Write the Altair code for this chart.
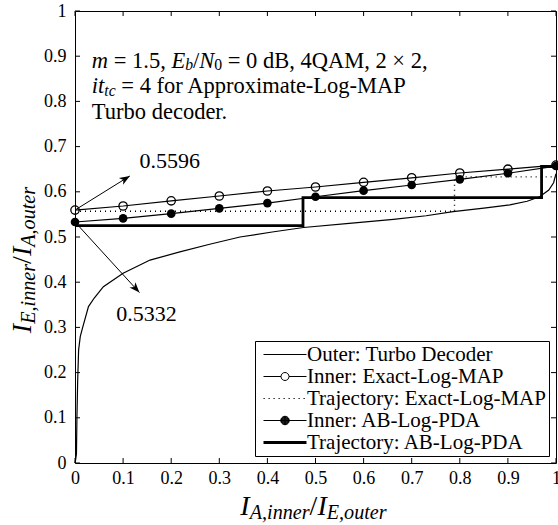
import math
import altair as alt
import pandas as pd

# ---------------- data ----------------
TICKS = [0.0, 0.1, 0.2, 0.3, 0.4, 0.5, 0.6, 0.7, 0.8, 0.9, 1.0]

OUTER_X = [0.0, 0.001, 0.003, 0.004, 0.0055, 0.0075, 0.011, 0.016, 0.028, 0.040,
           0.059, 0.100, 0.156, 0.218, 0.280, 0.343, 0.410, 0.475, 0.570, 0.662,
           0.730, 0.786, 0.850, 0.904, 0.940, 0.966, 0.985, 0.995, 1.000]
OUTER_Y = [0.0, 0.005, 0.02, 0.10, 0.18, 0.25, 0.28, 0.30, 0.346, 0.365,
           0.390, 0.420, 0.449, 0.467, 0.484, 0.500, 0.511, 0.521, 0.530, 0.539,
           0.547, 0.556, 0.564, 0.571, 0.579, 0.589, 0.604, 0.620, 0.640]

INNER_X = [0.0, 0.1, 0.2, 0.3, 0.4, 0.5, 0.6, 0.7, 0.8, 0.9, 1.0]
EXACT_Y = [0.5596, 0.5686, 0.5800, 0.5907, 0.6018, 0.6106, 0.6210, 0.6310, 0.6416, 0.6500, 0.6590]
AB_Y = [0.5332, 0.5413, 0.5516, 0.5634, 0.5750, 0.5890, 0.6025, 0.6150, 0.6276, 0.6410, 0.6570]

TRAJ_EXACT_X = [0.0, 0.789, 0.789, 1.0]
TRAJ_EXACT_Y = [0.557, 0.557, 0.633, 0.633]
TRAJ_AB_X = [0.0, 0.474, 0.474, 0.970, 0.970, 1.0]
TRAJ_AB_Y = [0.525, 0.525, 0.587, 0.587, 0.656, 0.656]

LEGEND_LABELS = ["Outer: Turbo Decoder", "Inner: Exact-Log-MAP",
                 "Trajectory: Exact-Log-MAP", "Inner: AB-Log-PDA",
                 "Trajectory: AB-Log-PDA"]

CALLOUT_TEXT = ["0.5596", "0.5332"]
CALLOUT_X = [0.134, 0.086]
CALLOUT_Y = [0.652, 0.3135]
ARROW_X0 = [0.0, 0.0]
ARROW_Y0 = [0.5596, 0.5332]
ARROW_X1 = [0.114, 0.134]
ARROW_Y1 = [0.635, 0.377]

NOTE_RUNS = [
    [("m", "i"), (" = 1.5, ", "r"), ("E", "i"), ("b", "is"), ("/", "r"), ("N", "i"),
     ("0", "rs"), (" = 0 dB, 4QAM, 2 × 2,", "r")],
    [("it", "i"), ("tc", "is"), (" = 4 for Approximate-Log-MAP", "r")],
    [("Turbo decoder.", "r")],
]
NOTE_X = 0.035
NOTE_Y = [0.8746, 0.8175, 0.7605]

X_TITLE_RUNS = [("I", "i"), ("A,inner", "is"), ("/", "r"), ("I", "i"), ("E,outer", "is")]
Y_TITLE_RUNS = [("I", "i"), ("E,inner", "is"), ("/", "r"), ("I", "i"), ("A,outer", "is")]

# ---------------- styling helpers ----------------
W, H = 481, 452
FONT = "Liberation Serif"

REG = {" ": 250, ",": 250, "-": 333, ".": 250, "/": 278, ":": 278, "=": 564,
       "×": 564,
       "A": 722, "B": 667, "D": 722, "E": 611, "I": 333, "L": 611, "M": 889, "N": 722,
       "O": 722, "P": 556, "Q": 722, "T": 611,
       "a": 444, "b": 500, "c": 444, "d": 500, "e": 444, "f": 333, "g": 500, "i": 278,
       "m": 778, "n": 500, "o": 500, "p": 500, "r": 333, "t": 278, "u": 500, "x": 500}
ITA = {" ": 250, ",": 250, "A": 611, "E": 611, "I": 333, "N": 667,
       "b": 500, "c": 444, "e": 444, "i": 278, "m": 722, "n": 500, "o": 500,
       "r": 389, "t": 278, "u": 500}


def tw(s, italic, size):
    tbl = ITA if italic else REG
    return sum(tbl.get(ch, 500) for ch in s) * size / 1000.0


SX = alt.Scale(domain=[0, 1], nice=False, zero=False)
SY = alt.Scale(domain=[0, 1], nice=False, zero=False)
AX = alt.Axis(values=TICKS, format=".1~f", title=None, labelPadding=6)
AY = alt.Axis(values=TICKS, format=".1~f", title=None, labelPadding=9)


def X(f):
    return alt.X(f, type="quantitative", scale=SX, axis=AX)


def Y(f):
    return alt.Y(f, type="quantitative", scale=SY, axis=AY)


def run_layers(runs, size, data, enc, centered=False, angle=0, sub_ratio=0.7, sub_drop=0.15):
    # Vega trims leading/trailing spaces, so they are turned into offsets.
    pieces = []
    pos = 0.0
    for text, style in runs:
        it = "i" in style
        sub = "s" in style
        fs = size * sub_ratio if sub else size
        lead = len(text) - len(text.lstrip(" "))
        lead_w = tw(" " * lead, it, fs)
        pieces.append((text.strip(" "), it, fs, pos + lead_w, size * sub_drop if sub else 0.0))
        pos += tw(text, it, fs)
    start = -pos / 2.0 if centered else 0.0
    out = []
    for text, it, fs, p, dy in pieces:
        out.append(
            alt.Chart(data).mark_text(
                align="left", baseline="alphabetic", font=FONT, fontSize=fs,
                fontStyle="italic" if it else "normal", color="black",
                dx=start + p, dy=dy, angle=angle,
            ).encode(text=alt.value(text), **enc)
        )
    return out


# ---------------- frames ----------------
outer_df = pd.DataFrame({"x": OUTER_X, "y": OUTER_Y, "i": range(len(OUTER_X))})
exact_df = pd.DataFrame({"x": INNER_X, "y": EXACT_Y})
ab_df = pd.DataFrame({"x": INNER_X, "y": AB_Y})
tex_df = pd.DataFrame({"x": TRAJ_EXACT_X, "y": TRAJ_EXACT_Y, "i": range(len(TRAJ_EXACT_X))})
tab_df = pd.DataFrame({"x": TRAJ_AB_X, "y": TRAJ_AB_Y, "i": range(len(TRAJ_AB_X))})
tick_df = pd.DataFrame({"t": TICKS})

angles = []
for x0, y0, x1, y1 in zip(ARROW_X0, ARROW_Y0, ARROW_X1, ARROW_Y1):
    angles.append(math.degrees(math.atan2(-(y1 - y0) * H, (x1 - x0) * W)) + 90.0)
arrow_df = pd.DataFrame({"x0": ARROW_X0, "y0": ARROW_Y0, "x1": ARROW_X1,
                         "y1": ARROW_Y1, "ang": angles})
callout_df = pd.DataFrame({"x": CALLOUT_X, "y": CALLOUT_Y, "t": CALLOUT_TEXT})

# ---------------- marks ----------------
outer = alt.Chart(outer_df).mark_line(color="black", strokeWidth=1.2).encode(
    x=X("x"), y=Y("y"), order="i:Q")
traj_exact = alt.Chart(tex_df).mark_line(color="black", strokeWidth=1.4, strokeDash=[1, 4]).encode(
    x=X("x"), y=Y("y"), order="i:Q")
traj_ab = alt.Chart(tab_df).mark_line(color="black", strokeWidth=2.8).encode(
    x=X("x"), y=Y("y"), order="i:Q")
exact_line = alt.Chart(exact_df).mark_line(color="black", strokeWidth=1.2).encode(x=X("x"), y=Y("y"))
exact_pts = alt.Chart(exact_df).mark_point(filled=False, color="black", strokeWidth=1.3,
                                           size=70, opacity=1).encode(x=X("x"), y=Y("y"))
ab_line = alt.Chart(ab_df).mark_line(color="black", strokeWidth=1.2).encode(x=X("x"), y=Y("y"))
ab_pts = alt.Chart(ab_df).mark_point(filled=True, color="black", size=75, opacity=1).encode(
    x=X("x"), y=Y("y"))

arrow_lines = alt.Chart(arrow_df).mark_rule(color="black", strokeWidth=1).encode(
    x=X("x0"), y=Y("y0"), x2="x1", y2="y1")
HEAD = "M0,0L1,2.6L0,1.9L-1,2.6Z"
arrow_heads = alt.Chart(arrow_df).mark_point(shape=HEAD, filled=True, color="black",
                                             size=64, opacity=1).encode(
    x=X("x1"), y=Y("y1"), angle=alt.Angle("ang:Q", scale=None))
callouts = alt.Chart(callout_df).mark_text(align="left", baseline="alphabetic", font=FONT,
                                           fontSize=22, color="black").encode(
    x=X("x"), y=Y("y"), text="t:N")

note_layers = []
for k, runs in enumerate(NOTE_RUNS):
    d = pd.DataFrame({"x": [NOTE_X], "y": [NOTE_Y[k]]})
    note_layers += run_layers(runs, 22.5, d, {"x": X("x"), "y": Y("y")}, sub_drop=0.12)

one = pd.DataFrame({"a": [0]})
xtitle_layers = run_layers(X_TITLE_RUNS, 28, one,
                           {"x": alt.value(W / 2 - 2), "y": alt.value(H + 52)},
                           centered=True, sub_ratio=0.72)
ytitle_layers = run_layers(Y_TITLE_RUNS, 28, one,
                           {"x": alt.value(-44), "y": alt.value(249)},
                           centered=True, angle=270, sub_ratio=0.72)

TL = 5
tick_b = alt.Chart(tick_df).mark_rule(color="black", strokeWidth=1).encode(
    x=X("t"), y=alt.value(H), y2=alt.value(H - TL))
tick_t = alt.Chart(tick_df).mark_rule(color="black", strokeWidth=1).encode(
    x=X("t"), y=alt.value(0), y2=alt.value(TL))
tick_l = alt.Chart(tick_df).mark_rule(color="black", strokeWidth=1).encode(
    y=Y("t"), x=alt.value(0), x2=alt.value(TL))
tick_r = alt.Chart(tick_df).mark_rule(color="black", strokeWidth=1).encode(
    y=Y("t"), x=alt.value(W), x2=alt.value(W - TL))

# legend symbols (custom paths, 1 unit = 5 px at symbol size 100)
a, b, c, r = -1.0, 7.6, 3.3, 0.8


def ring(rad):
    return (f"M{c - rad:.2f},0A{rad},{rad} 0 1,1 {c + rad:.2f},0"
            f"A{rad},{rad} 0 1,1 {c - rad:.2f},0Z")


p_line = f"M{a},0L{b},0"
p_open = f"M{a},0L{c - r:.2f},0M{c + r:.2f},0L{b},0" + ring(r)
dots = []
xx = a
while xx < b:
    dots.append(f"M{xx:.2f},0L{xx + 0.25:.2f},0")
    xx += 1.0
p_dot = "".join(dots)
p_fill = p_line + "".join(ring(rr) for rr in [0.85, 0.75, 0.65, 0.55, 0.45, 0.35, 0.25, 0.15])
p_thick = f"M{a},-0.2L{b},-0.2M{a},0L{b},0M{a},0.2L{b},0.2"
LEGEND_PATHS = [p_line, p_open, p_dot, p_fill, p_thick]

legend_df = pd.DataFrame({"series": LEGEND_LABELS})
legend_layer = alt.Chart(legend_df).mark_point(opacity=0, filled=False, color="black",
                                               strokeWidth=1).encode(
    shape=alt.Shape("series:N",
                    scale=alt.Scale(domain=LEGEND_LABELS, range=LEGEND_PATHS),
                    legend=alt.Legend(title=None, orient="bottom-right", offset=7,
                                      labelFont=FONT, labelFontSize=21, labelColor="black",
                                      labelLimit=500, labelOffset=28,
                                      symbolSize=100, symbolStrokeWidth=1,
                                      symbolStrokeColor="black",
                                      symbolFillColor="transparent", symbolOpacity=1,
                                      strokeColor="black", fillColor="white",
                                      padding=3, rowPadding=0)))

chart = alt.layer(
    outer, traj_exact, traj_ab, exact_line, ab_line, exact_pts, ab_pts,
    arrow_lines, arrow_heads, callouts, *note_layers,
    tick_b, tick_t, tick_l, tick_r, legend_layer,
    *xtitle_layers, *ytitle_layers,
).properties(
    width=W, height=H,
    autosize=alt.AutoSizeParams(type="none"),
    padding={"left": 75, "top": 11, "right": 2, "bottom": 62},
).configure_view(
    stroke="black", strokeWidth=1
).configure_axis(
    ticks=False, domain=False, grid=False, labelFlush=False, labelOverlap=False,
    labelFont=FONT, labelFontSize=18, labelColor="black"
)

chart.save("out.html", embed_options={"renderer": "svg", "actions": False})
